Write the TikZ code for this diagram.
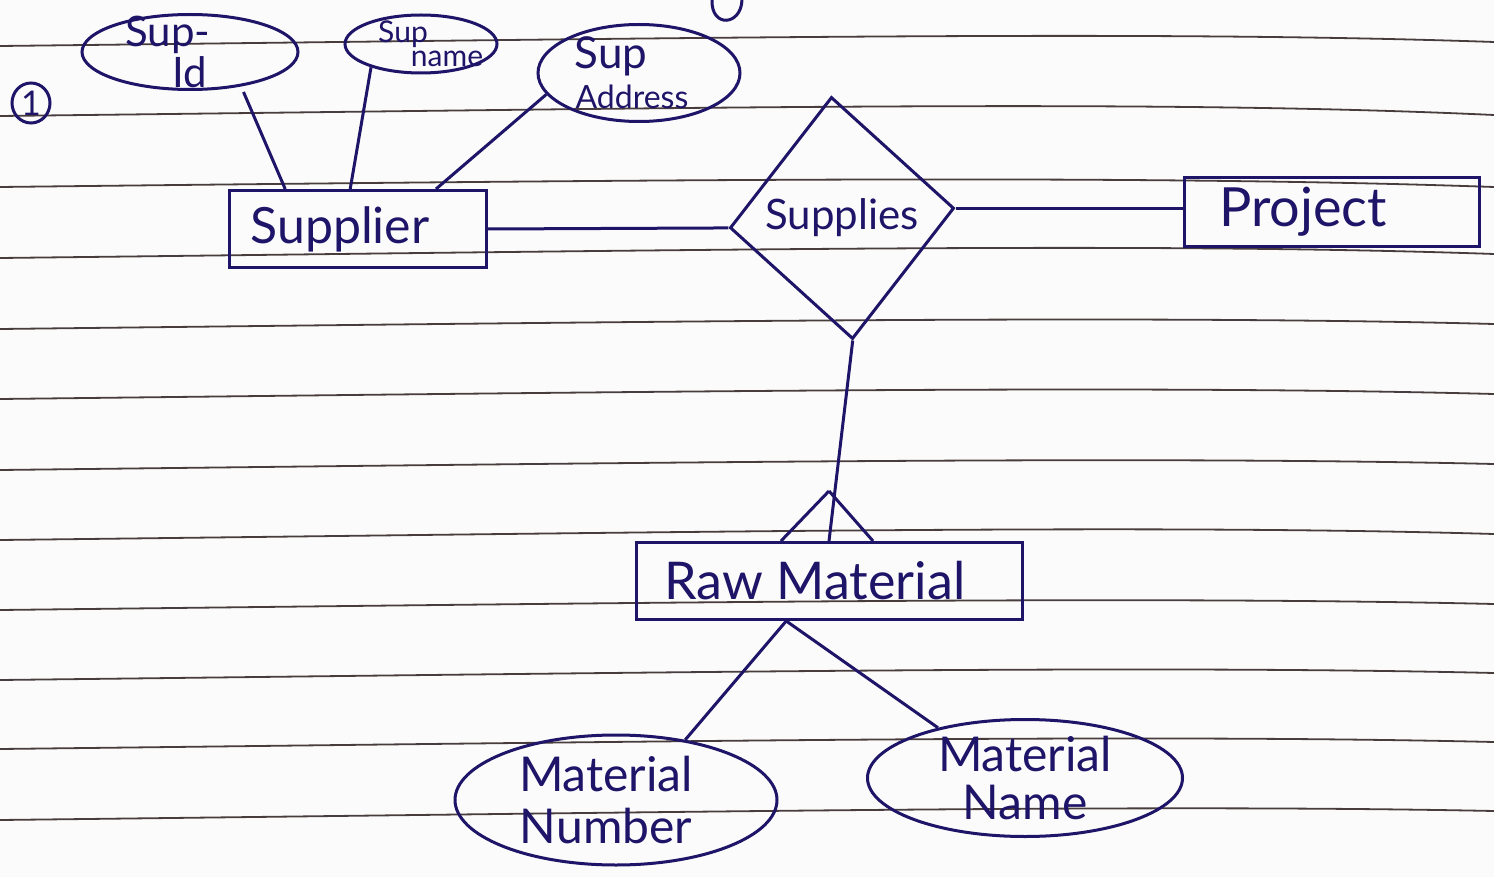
\documentclass[tikz,border=0pt]{standalone}
\usepackage{fontspec}
\setmainfont{Lato}
\usetikzlibrary{shapes.geometric,calc}
\definecolor{ink}{RGB}{30,20,104}
\definecolor{ruling}{RGB}{72,60,60}
\definecolor{paper}{RGB}{251,251,251}
\tikzset{
  entity/.style={draw=ink, text=ink, rectangle, inner sep=0pt, line width=1.5pt},
  attr/.style={draw=ink, ellipse, inner sep=0pt, line width=1.5pt},
  attrtext/.style={text=ink, align=center, inner sep=0pt},
  relbox/.style={draw=ink, text=ink, diamond, inner sep=0pt, line width=1.5pt},
  link/.style={draw=ink, line width=1.5pt},
  ruled/.style={draw=ruling, line width=0.9pt},
}
\begin{document}
\begin{tikzpicture}[x=0.5pt,y=-0.5pt]
\fill[paper] (0,0) rectangle (1494,877);
\useasboundingbox (0,0) rectangle (1494,877);
% ruled paper lines
\foreach \a/\c/\d in {46/34/42,116/103/115,187/179/187,258/246/254,329/319/324,399/389/394,470/460/464,540/528/534,610/600/604,680/669/673,749/738/742,820/808/811}{
  \draw[ruled] (0,\a) .. controls (700,\a-8) and (1150,\c-4) .. (1494,\d);
}
% stray mark at top
\draw[link] (712,0) .. controls (711,28) and (741,26) .. (742,0);
% circled number
\node[draw=ink, text=ink, ellipse, line width=1.5pt, minimum width=19pt, minimum height=20pt, inner sep=0pt, font=\fontsize{17}{17}\selectfont] (num) at (31,103) {1};
% entities
\node[entity, minimum width=128.5pt, minimum height=38.5pt, font=\fontsize{25}{28}\selectfont] (supplier) at (358,229) {Supplier\hspace*{18pt}};
\node[entity, minimum width=147.5pt, minimum height=34.5pt, font=\fontsize{27}{30}\selectfont] (project) at (1332,212) {Project\hspace*{29pt}};
\node[entity, minimum width=193pt, minimum height=38.5pt, font=\fontsize{26}{30}\selectfont] (raw) at (829,581) {Raw Material\hspace*{14pt}};
% relationship
\node[relbox, minimum width=112.5pt, minimum height=121.5pt, rotate=5, font=\fontsize{21}{24}\selectfont] (supplies) at (842,218) {\rotatebox{-5}{Supplies}};
% attributes (text set as centre labels so the ellipses keep their drawn size)
\node[attr, minimum width=108pt, minimum height=37.5pt,
  label={[attrtext, font=\fontsize{21}{16}\selectfont]center:Sup-\hspace*{22pt}\\Id}] (supid) at (190,52) {};
\node[attr, minimum width=76pt, minimum height=29pt,
  label={[attrtext, font=\fontsize{15}{12}\selectfont]center:Sup\hspace*{18pt}\\\hspace*{26pt}name}] (supname) at (421,44) {};
\node[attr, minimum width=101pt, minimum height=48.5pt,
  label={[attrtext, font=\fontsize{22}{20}\selectfont]center:Sup\hspace*{28pt}\\{\fontsize{16}{20}\selectfont Address\hspace*{7pt}}}] (supaddr) at (639,73) {};
\node[attr, minimum width=161pt, minimum height=65pt,
  label={[attrtext, font=\fontsize{24}{26}\selectfont]center:Material\hspace*{10pt}\\Number\hspace*{10pt}}] (matnum) at (616,800) {};
\node[attr, minimum width=157.5pt, minimum height=58.5pt,
  label={[attrtext, font=\fontsize{24}{24}\selectfont]center:Material\\Name}] (matname) at (1025,778) {};
% connectors
\draw[link, shorten <=3pt] (supid.-34) -- ($(supplier.north west)!0.22!(supplier.north east)$);
\draw[link] (supname.205) -- ($(supplier.north west)!0.47!(supplier.north east)$);
\draw[link] (supaddr.193) -- ($(supplier.north west)!0.80!(supplier.north east)$);
\draw[link] (supplier.east) -- (supplies.west);
\draw[link] (supplies.east) -- (project.west |- supplies.east);
\draw[link] (supplies.south) -- (raw.north);
\coordinate (fork) at ($(raw.north)+(0,-50)$);
\draw[link] (fork) -- ($(raw.north)+(-48,0)$);
\draw[link] (fork) -- ($(raw.north)+(44,0)$);
\coordinate (rawb) at ($(raw.south west)!0.39!(raw.south east)$);
\draw[link] (rawb) -- (matnum.41);
\draw[link] (rawb) -- (matname.150);
\end{tikzpicture}
\end{document}
